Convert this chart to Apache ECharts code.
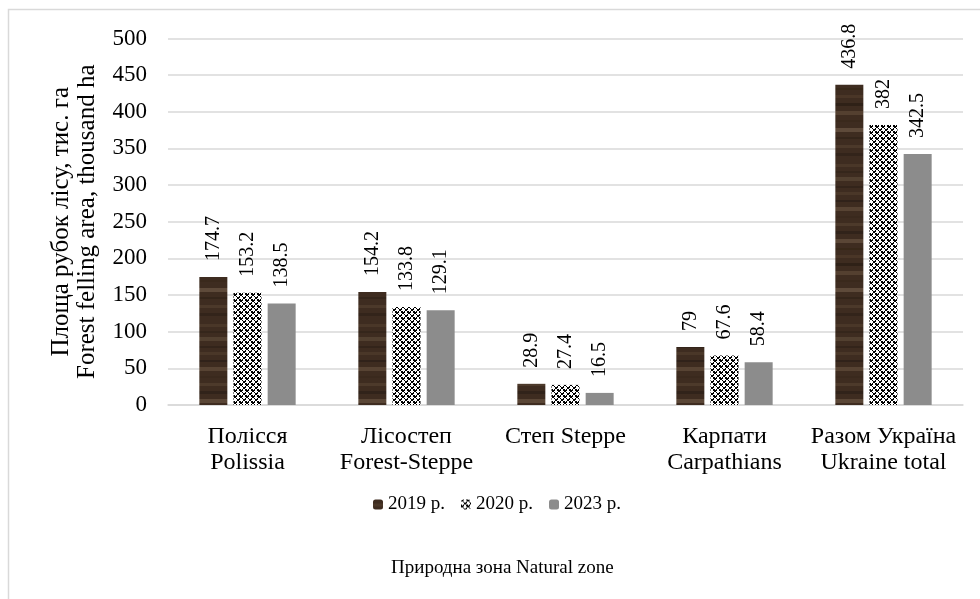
<!DOCTYPE html>
<html>
<head>
<meta charset="utf-8">
<script src="https://cdn.jsdelivr.net/npm/echarts@6/dist/echarts.min.js"></script>
<style>
  html, body { margin: 0; padding: 0; background: #fff; }
  #chart { width: 980px; height: 599px; }
</style>
</head>
<body>
<div id="chart"></div>
<script>
const categories = [
  "Полісся\nPolissia",
  "Лісостеп\nForest-Steppe",
  "Степ Steppe",
  "Карпати\nCarpathians",
  "Разом Україна\nUkraine total"
];
const seriesNames = ["2019 р.", "2020 р.", "2023 р."];
const values2019 = [174.7, 154.2, 28.9, 79, 436.8];
const values2020 = [153.2, 133.8, 27.4, 67.6, 382];
const values2023 = [138.5, 129.1, 16.5, 58.4, 342.5];

const FONT = "'Liberation Serif', 'Times New Roman', serif";

// wood-like texture: soft horizontal streaks
function woodPattern() {
  const c = document.createElement("canvas");
  c.width = 40; c.height = 160;
  const ctx = c.getContext("2d");
  ctx.fillStyle = "#3e2c20";
  ctx.fillRect(0, 0, 40, 160);
  const bands = [
    [4, 3, "#4a3728"], [11, 2, "#35261b"], [17, 4, "#524030"], [26, 2, "#33241a"],
    [32, 3, "#4a3728"], [40, 2, "#30221a"], [47, 4, "#574333"], [56, 2, "#3a291d"],
    [63, 3, "#4d3a2b"], [71, 3, "#31231a"], [79, 4, "#5a4636"], [88, 2, "#382819"],
    [95, 3, "#4a3627"], [103, 3, "#2f2117"], [111, 4, "#544030"], [120, 2, "#3a291c"],
    [128, 4, "#5e4a3a"], [137, 2, "#34251a"], [145, 3, "#4c392a"], [153, 3, "#33241a"]
  ];
  bands.forEach(function (b) {
    ctx.fillStyle = b[2];
    ctx.fillRect(0, b[0], 40, b[1]);
  });
  return c;
}

// small lattice texture
function latticePattern() {
  const c = document.createElement("canvas");
  c.width = 6; c.height = 6;
  const ctx = c.getContext("2d");
  ctx.fillStyle = "#ffffff";
  ctx.fillRect(0, 0, 6, 6);
  ctx.fillStyle = "#000000";
  const px = [[0,0],[1,1],[2,0],[1,0],[0,1],[3,3],[4,4],[5,3],[4,3],[3,4],[2,2],[5,5],[0,5],[5,0],[2,5],[5,2]];
  px.forEach(function (p) { ctx.fillRect(p[0], p[1], 1, 1); });
  return c;
}

const woodFill = { image: woodPattern(), repeat: "repeat" };
const latticeFill = { image: latticePattern(), repeat: "repeat" };

const labelStyle = {
  show: true,
  position: "top",
  rotate: 90,
  align: "left",
  verticalAlign: "middle",
  distance: 16,
  color: "#000",
  fontFamily: FONT,
  fontSize: 20
};

const myChart = echarts.init(document.getElementById("chart"));
myChart.setOption({
  animation: false,
  textStyle: { fontFamily: FONT },
  title: {
    text: "Природна зона Natural zone",
    left: 386,
    top: 554,
    textStyle: { fontFamily: FONT, fontSize: 19, fontWeight: "normal", color: "#000" }
  },
  grid: { left: 168, right: 17, top: 38.5, bottom: 194 },
  legend: {
    data: seriesNames,
    top: 490,
    left: 368,
    itemWidth: 10,
    itemHeight: 10,
    itemGap: 16,
    textStyle: { fontFamily: FONT, fontSize: 19, color: "#000" }
  },
  xAxis: {
    type: "category",
    data: categories,
    axisLine: { lineStyle: { color: "#d9d9d9", width: 1.5 } },
    axisTick: { show: false },
    axisLabel: {
      color: "#000",
      fontFamily: FONT,
      fontSize: 24,
      margin: 19,
      lineHeight: 26,
      interval: 0
    }
  },
  yAxis: {
    type: "value",
    min: 0,
    max: 500,
    interval: 50,
    name: "Площа рубок лісу, тис. га\nForest felling area, thousand ha",
    nameLocation: "middle",
    nameGap: 68,
    nameTextStyle: { fontFamily: FONT, fontSize: 25, color: "#000", lineHeight: 26 },
    axisLine: { show: false },
    axisTick: { show: false },
    axisLabel: { color: "#000", fontFamily: FONT, fontSize: 23, margin: 21 },
    splitLine: { lineStyle: { color: "#d9d9d9", width: 1.5 } }
  },
  series: [
    {
      name: seriesNames[0],
      type: "bar",
      data: values2019,
      barWidth: 28,
      barGap: "22%",
      barCategoryGap: "40%",
      itemStyle: { color: woodFill },
      label: labelStyle
    },
    {
      name: seriesNames[1],
      type: "bar",
      data: values2020,
      barWidth: 28,
      barGap: "22%",
      itemStyle: { color: latticeFill },
      label: labelStyle
    },
    {
      name: seriesNames[2],
      type: "bar",
      data: values2023,
      barWidth: 28,
      barGap: "22%",
      itemStyle: { color: "#8c8c8c" },
      label: labelStyle
    }
  ],
  graphic: [
    {
      type: "rect",
      shape: { x: 8.5, y: 9.5, width: 1000, height: 1000 },
      style: { fill: null, stroke: "#d9d9d9", lineWidth: 1.5 },
      silent: true,
      z: -1
    }
  ]
});
</script>
</body>
</html>
